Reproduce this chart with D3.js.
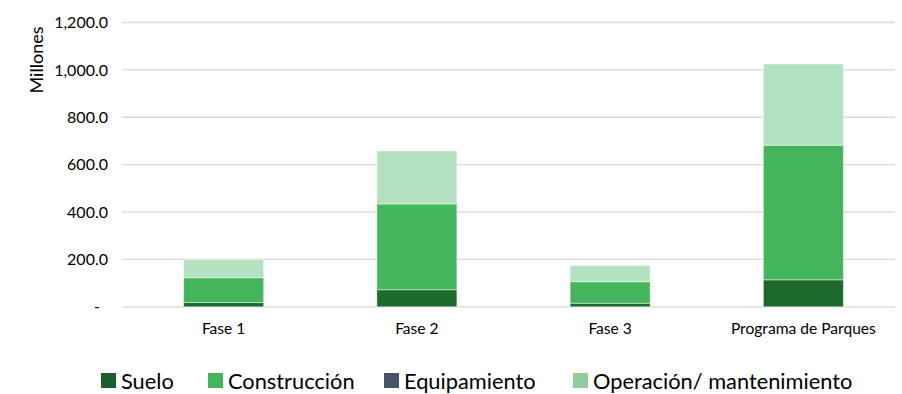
<!DOCTYPE html>
<html>
<head>
<meta charset="utf-8">
<script src="https://cdn.jsdelivr.net/npm/d3@7"></script>
<style>
  html, body { margin: 0; padding: 0; background: #fff; }
  svg { display: block; font-family: Lato, "Open Sans", sans-serif; }
</style>
</head>
<body>
<svg id="chart" width="902" height="394"></svg>
<script>
// Costs per phase, in millions
const categories = ["Fase 1", "Fase 2", "Fase 3", "Programa de Parques"];
const seriesNames = ["Suelo", "Construcción", "Equipamiento", "Operación/ mantenimiento"];
const suelo        = [18, 72, 15, 114];
const construccion = [105, 362, 91, 568];
const equipamiento = [0, 0, 0, 0];
const operacion    = [75, 224, 68, 343];
const yTicks = [0, 200, 400, 600, 800, 1000, 1200];

const barColors    = ["#1e6a2d", "#43b55a", "#44546a", "#b3e2c0"];
const legendColors = ["#1b5e2b", "#43b55a", "#44546a", "#8ccf9b"];

const rows = categories.map((c, i) => ({
  cat: c,
  "Suelo": suelo[i],
  "Construcción": construccion[i],
  "Equipamiento": equipamiento[i],
  "Operación/ mantenimiento": operacion[i]
}));

const stack = d3.stack().keys(seriesNames)(rows);

const svg = d3.select("#chart");
const x0 = 127, x1 = 900, yTop = 22.5, yBot = 306.8;

const x = d3.scaleBand().domain(categories).range([x0, x1]).paddingInner(0.586).paddingOuter(0.293);
const y = d3.scaleLinear().domain([0, 1200]).range([yBot, yTop]);

// Gridlines
svg.append("g")
  .selectAll("line")
  .data(yTicks)
  .join("line")
  .attr("x1", 122).attr("x2", 895)
  .attr("y1", d => y(d)).attr("y2", d => y(d))
  .attr("stroke", "#d9d9d9").attr("stroke-width", 1.3);

// Y axis labels
const fmt = d3.format(",.1f");
const yAxis = d3.axisLeft(y).tickValues(yTicks).tickSize(0).tickPadding(0)
  .tickFormat(d => d === 0 ? "-" : fmt(d));
const ya = svg.append("g").attr("transform", "translate(108,0)").call(yAxis);
ya.select(".domain").remove();
ya.selectAll("text")
  .attr("font-family", "Lato, sans-serif")
  .attr("font-size", 16)
  .attr("fill", "#000")
  .attr("dx", d => d === 0 ? -8 : 0);

// Axis title
svg.append("text")
  .attr("transform", "translate(43,60) rotate(-90)")
  .attr("text-anchor", "middle")
  .attr("font-size", 18)
  .attr("fill", "#000")
  .text("Millones");

// Stacked bars
svg.append("g")
  .selectAll("g")
  .data(stack)
  .join("g")
  .attr("fill", (d, i) => barColors[i])
  .selectAll("rect")
  .data(d => d.filter(p => p[1] > p[0]))
  .join("rect")
  .attr("x", d => x(d.data.cat))
  .attr("width", x.bandwidth())
  .attr("y", d => y(d[1]))
  .attr("height", d => y(d[0]) - y(d[1]))
  .attr("stroke", "rgba(255,255,255,0.45)")
  .attr("stroke-width", 1);

// Category labels
svg.append("g")
  .selectAll("text")
  .data(categories)
  .join("text")
  .attr("x", d => x(d) + x.bandwidth() / 2)
  .attr("y", 334)
  .attr("text-anchor", "middle")
  .attr("font-size", 15.6)
  .attr("fill", "#000")
  .text(d => d);

// Legend
const legendX = [101, 208, 384, 573];
const lg = svg.append("g")
  .selectAll("g")
  .data(seriesNames)
  .join("g")
  .attr("transform", (d, i) => `translate(${legendX[i]},373)`);
lg.append("rect")
  .attr("width", 15).attr("height", 15)
  .attr("fill", (d, i) => legendColors[i]);
lg.append("text")
  .attr("x", 20).attr("y", 15.5)
  .attr("font-size", 21.8)
  .attr("fill", "#000")
  .text(d => d);
</script>
</body>
</html>
